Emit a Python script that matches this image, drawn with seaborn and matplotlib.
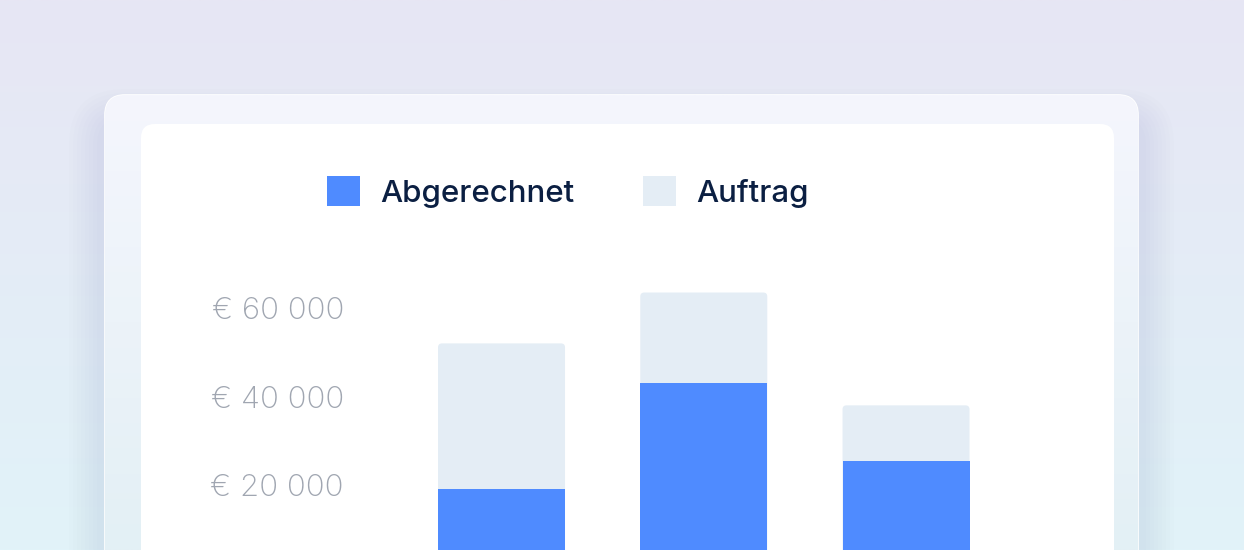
import numpy as np
import pandas as pd
import matplotlib
matplotlib.use("Agg")
import matplotlib.pyplot as plt
import seaborn as sns
from matplotlib.patches import FancyBboxPatch, Patch

# data
categories = ["A", "B", "C"]
auftrag = [52000, 63500, 38000]
abgerechnet = [19000, 43000, 25400]
ticks = [20000, 40000, 60000]
tick_labels = ["€ 20 000", "€ 40 000", "€ 60 000"]

BLUE = "#4F8BFF"
LIGHT = "#E4EDF5"
NAVY = "#0B1F42"
GREY = "#A0A6B1"

sns.set_theme(style="white")
plt.rcParams["font.family"] = ["Inter", "DejaVu Sans"]

W, H = 1244, 550
fig = plt.figure(figsize=(W / 100, H / 100), dpi=100)

# background gradient
bg = fig.add_axes([0, 0, 1, 1], zorder=-10)
top = np.array(matplotlib.colors.to_rgb("#E7E6F4"))
bot = np.array(matplotlib.colors.to_rgb("#E1F3F9"))
t = np.linspace(0, 1, 256)[:, None, None]
grad = top * (1 - t) + bot * t
grad = np.repeat(grad, 2, axis=1)
bg.imshow(grad, aspect="auto", extent=[0, W, H, 0])
bg.set_xlim(0, W)
bg.set_ylim(H, 0)
bg.axis("off")

# card shadow (soft, shifted down)
for i in range(8):
    g = 36 - i * 4
    bg.add_patch(FancyBboxPatch((105 - g, 95 - g + 30), 1033 + 2 * g, 600,
                                boxstyle="round,pad=0,rounding_size=%d" % (20 + g),
                                fc="#7C98B4", ec="none", alpha=0.016))
# outer card: whitish, fading to the background tint at the bottom
card_top = np.array(matplotlib.colors.to_rgb("#F5F6FD"))
card_bot = np.array(matplotlib.colors.to_rgb("#E3F0F5"))
tc = np.linspace(0, 1, 256)[:, None, None]
card_grad = np.repeat(card_top * (1 - tc) + card_bot * tc, 2, axis=1)
card = FancyBboxPatch((105, 95), 1033, 600, boxstyle="round,pad=0,rounding_size=20",
                      fc="none", ec="#FFFFFF", lw=1.2)
bg.add_patch(card)
im = bg.imshow(card_grad, aspect="auto", extent=[105, 1138, 550, 95], zorder=1)
im.set_clip_path(card)
# inner white panel
bg.add_patch(FancyBboxPatch((141, 124), 973, 600, boxstyle="round,pad=0,rounding_size=14",
                            fc="#FFFFFF", ec="none", zorder=2))
bg.set_xlim(0, W)
bg.set_ylim(H, 0)

# chart axes: y=0 at pixel 573.5, 20000 per 88.5 px; categories centered at 501.5 / 703.5 / 906
px_per = 88.5 / 20000
ymax = 80000
h_px = ymax * px_per
left_px = 501.5 - 101.1
w_px = 202.25 * 3
ax = fig.add_axes([left_px / W, (H - 573.5) / H, w_px / W, h_px / H])
ax.patch.set_alpha(0)

df = pd.DataFrame({"cat": categories, "Auftrag": auftrag, "Abgerechnet": abgerechnet})
sns.barplot(data=df, x="cat", y="Auftrag", color=LIGHT, width=0.628, ax=ax, saturation=1)
n_light = len(ax.patches)
sns.barplot(data=df, x="cat", y="Abgerechnet", color=BLUE, width=0.628, ax=ax, saturation=1)

# round the top corners of the Auftrag bars
for p in list(ax.patches)[:n_light]:
    x0, y0 = p.get_x(), p.get_y()
    w, h = p.get_width(), p.get_height()
    p.set_visible(False)
    r_x = 4 / 202.25
    ax.add_patch(FancyBboxPatch((x0, y0), w, h, boxstyle="round,pad=0,rounding_size=%f" % r_x,
                                mutation_aspect=(4 / px_per) / r_x,
                                fc=LIGHT, ec="none", zorder=1))
for p in list(ax.patches)[n_light:n_light + 3]:
    p.set_zorder(2)
    p.set_edgecolor("none")

ax.set_xlim(-0.5, 2.5)
ax.set_ylim(0, ymax)
ax.set_yticks(ticks)
ax.set_yticklabels(tick_labels)
ax.set_xticks([])
ax.set_xlabel("")
ax.set_ylabel("")
ax.tick_params(axis="y", length=0, pad=(left_px - 344) * 0.72, labelsize=22.5, labelcolor=GREY)
for lab in ax.get_yticklabels():
    lab.set_fontweight("light")
sns.despine(ax=ax, left=True, bottom=True)

# legend
handles = [Patch(fc=BLUE, ec="none", label="Abgerechnet"),
           Patch(fc=LIGHT, ec="none", label="Auftrag")]
leg = fig.legend(handles=handles, loc="center left", bbox_to_anchor=(327 / W, 1 - 192 / H),
                 ncol=2, frameon=False, fontsize=22.5, handlelength=1.06, handleheight=1.06,
                 handletextpad=0.64, columnspacing=2.2, borderpad=0, borderaxespad=0)
for txt in leg.get_texts():
    txt.set_color(NAVY)
    txt.set_fontweight("medium")

fig.savefig("out.png", dpi=100)
